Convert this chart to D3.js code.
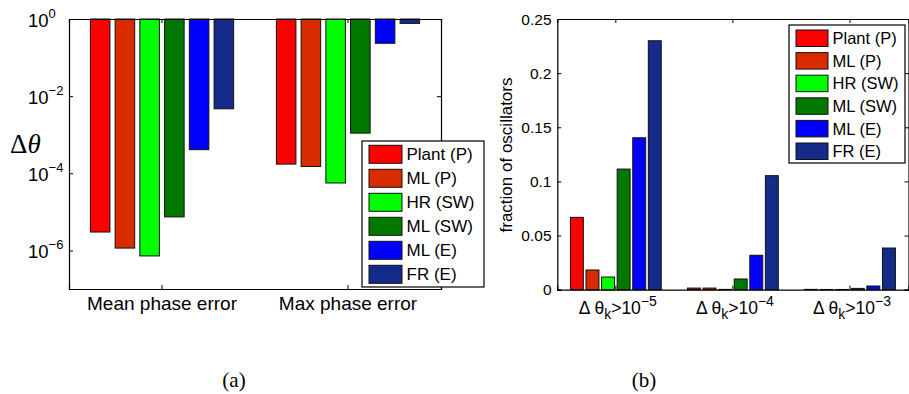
<!DOCTYPE html>
<html>
<head>
<meta charset="utf-8">
<script src="https://cdn.jsdelivr.net/npm/d3@7"></script>
<style>
    body { margin: 0; background: white; }
    text { font-family: "Liberation Sans", Arial, sans-serif; fill: black; }
    .serif { font-family: "Liberation Serif", "Times New Roman", serif; }
</style>
</head>
<body>
<div id="chart-area"></div>
<script>
//____________________________DATA________________________//
const seriesNames = ["Plant (P)", "ML (P)", "HR (SW)", "ML (SW)", "ML (E)", "FR (E)"]
const seriesColors = ["#ff0000", "#d92b00", "#00ff00", "#007800", "#0000ff", "#142b8a"]

// (a) phase error, log axis
const errorCats = ["Mean phase error", "Max phase error"]
const meanPhaseErr = [3.0e-6, 1.15e-6, 7.2e-7, 7.4e-6, 4.1e-4, 4.7e-3]
const maxPhaseErr = [1.73e-4, 1.5e-4, 5.6e-5, 1.1e-3, 0.235, 0.77]
const logTicks = [1e-6, 1e-4, 1e-2, 1]

// (b) fraction of oscillators above threshold
const threshExp = ["5", "4", "3"]
const fracAbove5 = [0.0668, 0.0182, 0.0117, 0.1114, 0.1403, 0.2299]
const fracAbove4 = [0.0015, 0.0015, 0.0003, 0.0099, 0.0318, 0.1053]
const fracAbove3 = [0.0003, 0.0002, 0.0002, 0.0012, 0.0034, 0.0385]
const fracTicks = [0, 0.05, 0.1, 0.15, 0.2, 0.25]

const W = 909, H = 394

const svg = d3.select('#chart-area').append('svg')
    .attr("width", W)
    .attr("height", H)

//____________________________PANEL (a)________________________//
const A = {left: 69, right: 441, top: 19, bottom: 289}
const gA = svg.append('g').attr('class', 'panel-a')

const xA = d3.scaleBand()
    .domain(errorCats)
    .range([A.left, A.right])

const xAsub = d3.scaleBand()
    .domain(seriesNames)
    .range([xA.bandwidth() * 0.115, xA.bandwidth() * 0.885])
    .paddingInner(0.21)

const yA = d3.scaleLog()
    .domain([1e-7, 1])
    .range([A.bottom, A.top])

const errData = [meanPhaseErr, maxPhaseErr]

errData.forEach((vals, gi) => {
    gA.append('g')
        .attr('transform', `translate(${xA(errorCats[gi])},0)`)
        .selectAll('rect')
        .data(vals)
        .join('rect')
        .attr('x', (d, i) => xAsub(seriesNames[i]))
        .attr('width', xAsub.bandwidth())
        .attr('y', yA(1))
        .attr('height', d => yA(d) - yA(1))
        .attr('fill', (d, i) => seriesColors[i])
        .attr('stroke', '#111')
        .attr('stroke-width', 1)
})

// axes: box with inward ticks
gA.append('g')
    .attr('transform', `translate(${A.left},0)`)
    .call(d3.axisLeft(yA).tickValues(logTicks).tickSize(-4).tickFormat(''))
gA.append('g')
    .attr('transform', `translate(${A.right},0)`)
    .call(d3.axisRight(yA).tickValues(logTicks).tickSize(-4).tickFormat(''))
gA.append('g')
    .attr('transform', `translate(0,${A.bottom})`)
    .call(d3.axisBottom(xA).tickSize(-4).tickFormat(''))
gA.append('g')
    .attr('transform', `translate(0,${A.top})`)
    .call(d3.axisTop(xA).tickSize(-4).tickFormat(''))

// tick labels 10^n
logTicks.forEach(t => {
    const lbl = gA.append('text')
        .attr('x', 28)
        .attr('y', yA(t) + 8)
        .style('font-size', '18.5px')
    lbl.append('tspan').text('10')
    lbl.append('tspan')
        .attr('dy', -9)
        .style('font-size', '13px')
        .text(Math.round(Math.log10(t)) === 0 ? '0' : '\u2212' + Math.abs(Math.round(Math.log10(t))))
})

errorCats.forEach(c => {
    gA.append('text')
        .attr('x', xA(c) + xA.bandwidth() / 2)
        .attr('y', 310)
        .attr('text-anchor', 'middle')
        .style('font-size', '19px')
        .text(c)
})

const yLabA = gA.append('text')
    .attr('class', 'serif')
    .attr('x', 10)
    .attr('y', 153)
    .style('font-size', '27px')
yLabA.append('tspan').text('\u0394')
yLabA.append('tspan').style('font-style', 'italic').text('\u03b8')

//____________________________PANEL (b)________________________//
const B = {left: 557.3, right: 908.5, top: 19, bottom: 289.7}
const gB = svg.append('g').attr('class', 'panel-b')

const xB = d3.scaleBand()
    .domain(threshExp)
    .range([B.left, B.right])

const xBsub = d3.scaleBand()
    .domain(seriesNames)
    .range([xB.bandwidth() * 0.112, xB.bandwidth() * 0.888])
    .paddingInner(0.17)

const yB = d3.scaleLinear()
    .domain([0, 0.25])
    .range([B.bottom, B.top])

const fracData = [fracAbove5, fracAbove4, fracAbove3]

fracData.forEach((vals, gi) => {
    gB.append('g')
        .attr('transform', `translate(${xB(threshExp[gi])},0)`)
        .selectAll('rect')
        .data(vals)
        .join('rect')
        .attr('x', (d, i) => xBsub(seriesNames[i]))
        .attr('width', xBsub.bandwidth())
        .attr('y', d => yB(d))
        .attr('height', d => yB(0) - yB(d))
        .attr('fill', (d, i) => seriesColors[i])
        .attr('stroke', '#111')
        .attr('stroke-width', 1)
})

gB.append('g')
    .attr('transform', `translate(${B.left},0)`)
    .call(d3.axisLeft(yB).tickValues(fracTicks).tickSize(-4).tickFormat(''))
gB.append('g')
    .attr('transform', `translate(${B.right},0)`)
    .call(d3.axisRight(yB).tickValues(fracTicks).tickSize(-4).tickFormat(''))
gB.append('g')
    .attr('transform', `translate(0,${B.bottom})`)
    .call(d3.axisBottom(xB).tickSize(-4).tickFormat(''))
gB.append('g')
    .attr('transform', `translate(0,${B.top})`)
    .call(d3.axisTop(xB).tickSize(-4).tickFormat(''))

fracTicks.forEach(t => {
    gB.append('text')
        .attr('x', 551.5)
        .attr('y', yB(t))
        .attr('dy', '0.36em')
        .attr('text-anchor', 'end')
        .style('font-size', '15.5px')
        .text(t === 0 ? '0' : String(t))
})

threshExp.forEach(e => {
    const lbl = gB.append('text')
        .attr('x', xB(e) + xB.bandwidth() / 2 + 2)
        .attr('y', 314)
        .attr('text-anchor', 'middle')
        .style('font-size', '17.5px')
    lbl.append('tspan').text('\u0394 \u03b8')
    lbl.append('tspan').attr('dy', 5).style('font-size', '14px').text('k')
    lbl.append('tspan').attr('dy', -5).text('>10')
    lbl.append('tspan').attr('dy', -8).style('font-size', '14px').text('\u2212' + e)
})

gB.append('text')
    .attr('transform', `translate(512,155) rotate(-90)`)
    .attr('text-anchor', 'middle')
    .style('font-size', '17px')
    .text('fraction of oscillators')

//____________________________AXIS LINE STYLE________________________//
svg.selectAll('.domain').attr('stroke', '#000').attr('stroke-width', 1.2)
svg.selectAll('.tick line').attr('stroke', '#000')

//____________________________LEGENDS________________________//
function drawLegend(box, sw, rowH, fontSize) {
    const lg = svg.append('g')
    lg.append('rect')
        .attr('x', box.x).attr('y', box.y)
        .attr('width', box.w).attr('height', box.h)
        .attr('fill', 'white')
        .attr('stroke', '#000')
        .attr('stroke-width', 1.2)
    const rows = lg.selectAll('g.row')
        .data(seriesNames)
        .join('g')
        .attr('class', 'row')
        .attr('transform', (d, i) => `translate(${box.x},${box.y + sw.top + i * rowH})`)
    rows.append('rect')
        .attr('x', sw.left)
        .attr('width', sw.w)
        .attr('height', sw.h)
        .attr('fill', (d, i) => seriesColors[i])
        .attr('stroke', '#111')
    rows.append('text')
        .attr('x', sw.left + sw.w + 4.5)
        .attr('y', sw.h / 2)
        .attr('dy', '0.36em')
        .style('font-size', fontSize)
        .text(d => d)
}

drawLegend({x: 362, y: 141, w: 122, h: 146}, {left: 7, top: 4.3, w: 33, h: 18}, 24, '17px')
drawLegend({x: 789, y: 25, w: 116, h: 138}, {left: 7, top: 5, w: 32, h: 16.5}, 22.6, '16.5px')

//____________________________SUBFIGURE LABELS________________________//
svg.append('text').attr('class', 'serif')
    .attr('x', 234).attr('y', 387)
    .attr('text-anchor', 'middle')
    .style('font-size', '21px')
    .text('(a)')
svg.append('text').attr('class', 'serif')
    .attr('x', 644).attr('y', 387)
    .attr('text-anchor', 'middle')
    .style('font-size', '21px')
    .text('(b)')
</script>
</body>
</html>
